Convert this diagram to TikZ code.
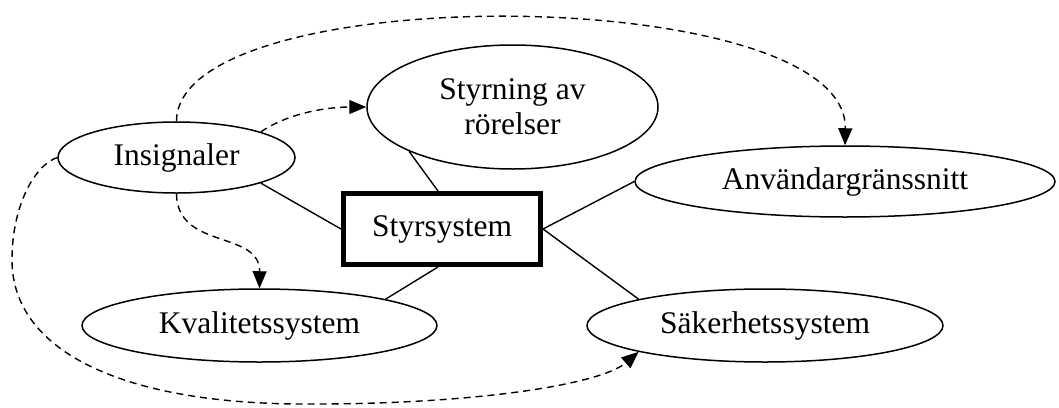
\documentclass[tikz,border=0pt]{standalone}
\usepackage{fontspec}
\setmainfont{Liberation Serif}
\usetikzlibrary{shapes.geometric,arrows.meta}
\begin{document}
\begin{tikzpicture}[x=1pt,y=-1pt,
  oval/.style={ellipse,draw,line width=1.5pt,inner sep=0pt,
    font=\fontsize{31.5}{35}\selectfont},
  mainbox/.style={draw,line width=5pt,inner sep=0pt,
    font=\fontsize{31.5}{35}\selectfont},
  link/.style={line width=1.4pt},
  flow/.style={line width=1.4pt,dash pattern=on 7pt off 5pt,
    -{Triangle[length=17pt,width=14pt]}},
]
\useasboundingbox (0,0) rectangle (1059,407);

% modules around the control system
\node[oval,minimum width=237pt,minimum height=71pt] (ins) at (176.5,157.5) {Insignaler};
\node[oval,minimum width=291pt,minimum height=124pt,align=center] (mov) at (512.5,107) {Styrning av\\rörelser};
\node[oval,minimum width=420pt,minimum height=71pt] (ui) at (845,181.5) {Användargränssnitt};
\node[oval,minimum width=355pt,minimum height=73pt] (qual) at (259.5,325.5) {Kvalitetssystem};
\node[oval,minimum width=356pt,minimum height=73pt] (safe) at (765,325.5) {Säkerhetssystem};
\node[mainbox,minimum width=197pt,minimum height=71pt] (ctrl) at (442,229) {Styrsystem};

% solid links to the control system
\draw[link] (ins.south east) -- (ctrl.west);
\draw[link] (mov.south west) -- ([xshift=-4pt]ctrl.north);
\draw[link] (ctrl.east) -- (ui.west);
\draw[link] (ctrl.east) -- (safe.north west);
\draw[link] ([xshift=-4pt]ctrl.south) -- (qual.north east);

% dashed signal flows from the inputs
\draw[flow] (ins.north) .. controls (177,-22) and (848,-18) .. (ui.north);
\draw[flow] (ins.north east) .. controls (290,112) and (330,107) .. (mov.west);
\draw[flow] (ins.south) .. controls (177,250) and (260,230) .. (qual.north);
\draw[flow] (ins.west) .. controls (35,165) and (12,205) .. (12,260)
  .. controls (12,350) and (120,403) .. (300,404)
  .. controls (470,405) and (600,385) .. (safe.south west);
\end{tikzpicture}
\end{document}
